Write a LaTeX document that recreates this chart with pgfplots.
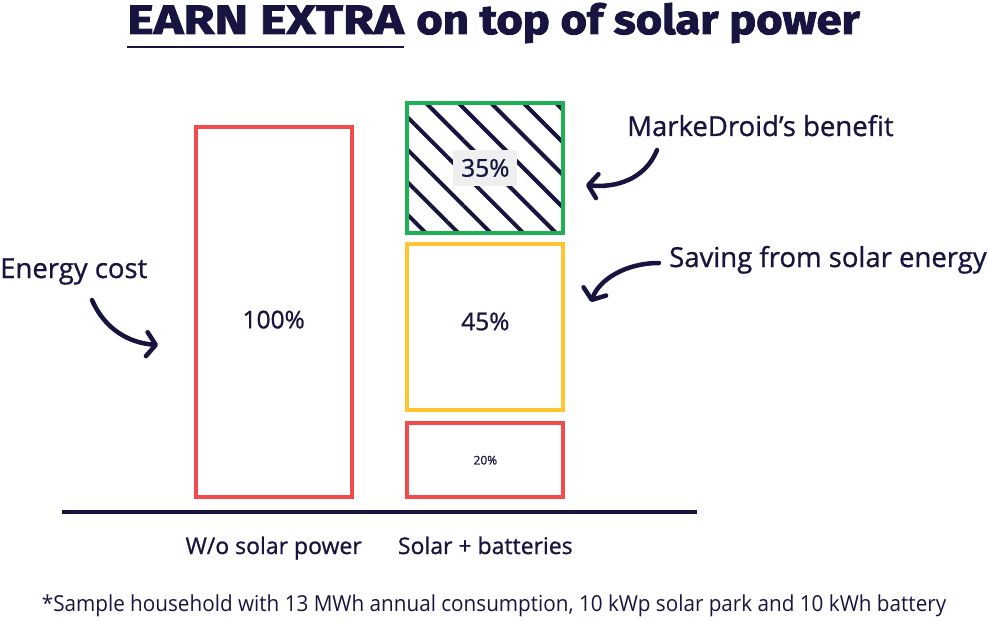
\documentclass[border=0pt]{standalone}
\usepackage{fontspec}
\usepackage{graphicx}
\usepackage{pgfplots}
\pgfplotsset{compat=1.18}
\usetikzlibrary{patterns.meta,arrows.meta}
\setmainfont{Open Sans}
\newfontfamily\titlefont{Fira Sans}[FakeBold=2.2, FakeStretch=1.105]
\newfontfamily\titlecaps{Fira Sans}[FakeBold=2.2, FakeStretch=1.23]
\newfontfamily\labelfont{Open Sans}[FakeBold=0.9]

\definecolor{ink}{HTML}{17153F}
\definecolor{cred}{HTML}{F24B4B}
\definecolor{cyellow}{HTML}{FFC533}
\definecolor{cgreen}{HTML}{1FAF55}
\definecolor{boxgray}{HTML}{EEF0EF}

\pgfplotsset{
  panel/.style={
    at={(0pt,0pt)}, anchor=south west,
    scale only axis, width=635pt, height=421.8pt,
    xmin=0, xmax=3, ymin=-4, ymax=110,
    clip=false, bar width=156pt,
  },
  seg/.style={line width=4pt, fill=none, line join=miter},
}
\tikzset{
  val/.style={text=ink, font=\labelfont\fontsize{24.5}{28}\selectfont},
  note/.style={anchor=base west, text=ink, inner sep=0pt,
    font=\labelfont\fontsize{27.5}{32}\selectfont},
  curly/.style={ink, line width=4.5pt, line cap=round,
    -{Straight Barb[length=9pt, width=24pt, line width=4.5pt, round]}},
}

\begin{document}
\begin{tikzpicture}
% fixed canvas
\path (-62pt,-106pt) rectangle (926pt,512pt);

% single bar without solar
\begin{axis}[panel, ybar, bar shift=0pt,
  hide y axis, axis x line=bottom,
  x axis line style={-, draw=ink, line width=4pt},
  xtick={1,2}, xticklabels={W/o solar power, Solar + batteries},
  xtick style={draw=none}, major tick length=0pt,
  xticklabel style={text=ink, font=\labelfont\fontsize{23}{27}\selectfont, yshift=-21pt}]
\addplot[seg, draw=cred] coordinates {(1,100)};
\coordinate (v100) at (axis cs:1,48);
\end{axis}

% stacked column: remaining cost, solar saving, benefit (with spacers)
\begin{axis}[panel, ybar stacked, hide axis]
\addplot[seg, draw=cred] coordinates {(2,20)};
\addplot[draw=none, fill=none] coordinates {(2,3.5)};
\addplot[seg, draw=cyellow] coordinates {(2,45)};
\addplot[draw=none, fill=none] coordinates {(2,3)};
\addplot[seg, draw=cgreen,
  pattern={Lines[angle=-45, distance=23pt, line width=4pt]}, pattern color=ink]
  coordinates {(2,35)};
\coordinate (v20) at (axis cs:2,10);
\coordinate (v45) at (axis cs:2,47.5);
\coordinate (v35) at (axis cs:2,89);
\end{axis}

% value labels
\node[val] at (v100) {100\%};
\node[val] at (v45) {45\%};
\node[val, fill=boxgray, inner xsep=8pt, inner ysep=9pt] at (v35) {35\%};
\node[text=ink, font=\labelfont\fontsize{12}{14}\selectfont] at (v20) {20\%};

% title
\node[anchor=base west, inner sep=0pt, text=ink,
  font=\titlecaps\bfseries\fontsize{41}{46}\selectfont] (t1) at (65pt,478pt) {EARN EXTRA};
\node[anchor=base west, inner sep=0pt, text=ink,
  font=\titlefont\bfseries\fontsize{41}{46}\selectfont] at ([xshift=12pt]t1.base east) {on top of solar power};
\draw[ink, line width=2pt] (t1.base west |- 0,465pt) -- (t1.base east |- 0,465pt);

% annotations
\node[note] at (565pt,376pt) {MarkeDroid’s benefit};
\node[note] at (607pt,245pt) {Saving from solar energy};
\node[note] at (-62pt,234pt) {Energy cost};

\draw[curly] (595pt,362pt) .. controls (583pt,332pt) and (553pt,324pt) .. (524pt,327pt);
\draw[curly] (597pt,249pt) .. controls (563pt,249pt) and (537pt,232pt) .. (529pt,210pt);
\draw[curly] (30pt,212pt) .. controls (43pt,182pt) and (68pt,169pt) .. (96pt,167pt);

% footnote
\node[text=ink, font=\fontsize{22}{26}\selectfont] at (432pt,-94pt)
  {\scalebox{0.94}[1]{*Sample household with 13 MWh annual consumption, 10 kWp solar park and 10 kWh battery}};
\end{tikzpicture}
\end{document}
